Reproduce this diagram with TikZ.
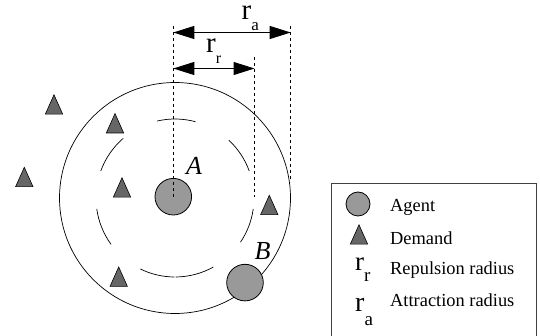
\documentclass[tikz,border=0pt]{standalone}
\usepackage{fontspec}
\setmainfont{Liberation Serif}
\usetikzlibrary{arrows.meta,calc}
\begin{document}
\begin{tikzpicture}[x=1pt,y=-1pt,
  agent/.style={circle,draw=black,line width=0.8pt,fill=black!40,inner sep=0pt},
  demandtri/.style={draw=black,line width=0.6pt,fill=black!60,line join=miter},
  guide/.style={dash pattern=on 3pt off 3pt,line width=0.8pt},
  dim/.style={line width=1pt,{Triangle[length=21pt,width=13pt]}-{Triangle[length=21pt,width=13pt]}},
  lbl/.style={inner sep=0pt,anchor=base west},
  legtxt/.style={inner sep=0pt,anchor=base west,font=\fontsize{18.4}{18.4}\selectfont},
  demand/.pic={\draw[demandtri] (-8.7,9.7) -- (8.7,9.7) -- (0,-9.7) -- cycle;}
]
\useasboundingbox (0,0) rectangle (540,336);
% circles
\coordinate (C) at (175,198);
\draw[line width=0.7pt] (C) circle[radius=115.5];
\foreach \a/\b in {-47/-20,-103/-75,-160/-131,-216/-188,-269.5/-244,-299/-270.5,-352/-326}{
  \draw[line width=0.7pt] ($(C)+(\a:79)$) arc[start angle=\a,end angle=\b,radius=79];
}
% agents
\node[agent,minimum size=36.6pt] (A) at (173.3,196.7) {};
\node[agent,minimum size=36.6pt] (B) at (245,282.6) {};
\node[lbl,font=\fontsize{26}{26}\selectfont\itshape] (Alab) at (186,175) {A};
\node[lbl,font=\fontsize{26}{26}\selectfont\itshape] (Blab) at (254.5,260) {B};
% demands
\pic at (54,104.5) {demand};
\pic at (115,123.3) {demand};
\pic at (24.3,177) {demand};
\pic at (122,187.5) {demand};
\pic at (269.3,205) {demand};
\pic at (118.7,276.7) {demand};
% guides
\coordinate (g1t) at (173.3,26);
\coordinate (g2t) at (254.5,57);
\coordinate (g2b) at (254.5,197);
\coordinate (g3t) at (290.7,26);
\coordinate (g3b) at (290.7,182);
\draw[guide] (g1t) -- (A.center);
\draw[guide] (g2t) -- (g2b);
\draw[guide] (g3t) -- (g3b);
% dimension arrows
\coordinate (ra1) at (173.3,32.5);
\coordinate (ra2) at (290.7,32.5);
\coordinate (rr1) at (173.3,68.5);
\coordinate (rr2) at (254.5,68.5);
\draw[dim] (ra1) -- (ra2);
\draw[dim] (rr1) -- (rr2);
\node[lbl,text height=14pt] (ralab) at (241.5,19.5) {\fontsize{29}{29}\selectfont r\raisebox{-11pt}{\fontsize{17}{17}\selectfont a}};
\node[lbl,text height=14pt] (rrlab) at (206,52.7) {\fontsize{29}{29}\selectfont r\raisebox{-11pt}{\fontsize{16}{16}\selectfont r}};
% legend
\node[draw=black!75,line width=1pt,minimum width=205pt,minimum height=152pt,inner sep=0pt,anchor=north west] (leg) at (331,183.5) {};
\node[agent,minimum size=24pt] (legA) at (358,204) {};
\pic at (359,234.5) {demand};
\node[legtxt] (t1) at (390,211.5) {Agent};
\node[legtxt] (t2) at (390,244.3) {Demand};
\node[legtxt] (t3) at (390,275) {Repulsion radius};
\node[legtxt] (t4) at (390,306.7) {Attraction radius};
\node[lbl] (legrr) at (355,270) {\fontsize{27}{27}\selectfont r\raisebox{-12pt}{\fontsize{19}{19}\selectfont r}};
\node[lbl] (legra) at (355,311) {\fontsize{28}{28}\selectfont r\raisebox{-14pt}{\fontsize{19}{19}\selectfont a}};
\end{tikzpicture}
\end{document}
